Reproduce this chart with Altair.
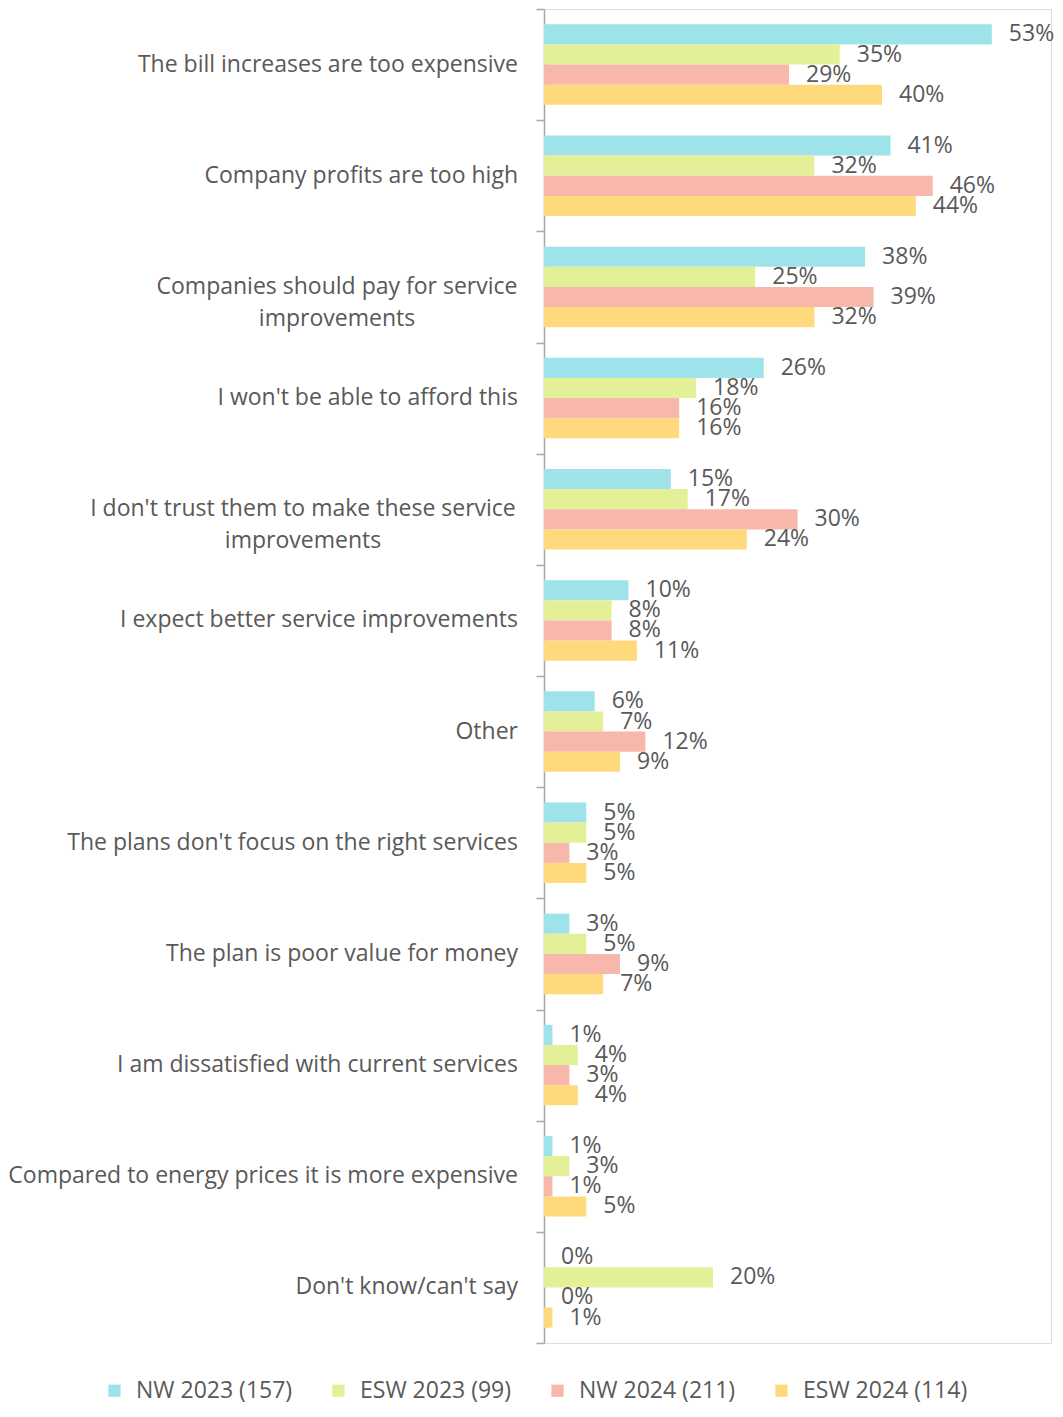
import altair as alt
import pandas as pd

categories = [
    "The bill increases are too expensive",
    "Company profits are too high",
    "Companies should pay for service\nimprovements",
    "I won't be able to afford this",
    "I don't trust them to make these service\nimprovements",
    "I expect better service improvements",
    "Other",
    "The plans don't focus on the right services",
    "The plan is poor value for money",
    "I am dissatisfied with current services",
    "Compared to energy prices it is more expensive",
    "Don't know/can't say",
]
series = ["NW 2023 (157)", "ESW 2023 (99)", "NW 2024 (211)", "ESW 2024 (114)"]
nw_2023 = [53, 41, 38, 26, 15, 10, 6, 5, 3, 1, 1, 0]
esw_2023 = [35, 32, 25, 18, 17, 8, 7, 5, 5, 4, 3, 20]
nw_2024 = [29, 46, 39, 16, 30, 8, 12, 3, 9, 3, 1, 0]
esw_2024 = [40, 44, 32, 16, 24, 11, 9, 5, 7, 4, 5, 1]
colors = ["#9EE3EA", "#E4F098", "#F7B7AA", "#FFDA7C"]

rows = []
for s, vals in zip(series, [nw_2023, esw_2023, nw_2024, esw_2024]):
    for c, v in zip(categories, vals):
        rows.append({"category": c, "series": s, "value": v / 100.0})
df = pd.DataFrame(rows)
cat_df = pd.DataFrame({"category": categories})

FONT = "Open Sans"
TXT = "#595959"
FS = 23
GRAY = "#A6A6A6"
GAP = 26  # label-to-axis gap

y_scale = alt.Scale(paddingInner=0, paddingOuter=0)
y_enc = alt.Y(
    "category:N",
    sort=categories,
    scale=y_scale,
    axis=alt.Axis(
        title=None,
        labels=False,
        tickBand="extent",
        tickSize=8,
        tickColor=GRAY,
        tickWidth=1.5,
        domainColor=GRAY,
        domainWidth=1.5,
    ),
)
x_enc = alt.X("value:Q", scale=alt.Scale(domain=[0, 0.6]), axis=None)
y_off = alt.YOffset(
    "series:N", sort=series, scale=alt.Scale(paddingInner=0, paddingOuter=0.76)
)

bars = alt.Chart(df).mark_bar().encode(
    y=y_enc,
    x=x_enc,
    yOffset=y_off,
    color=alt.Color(
        "series:N",
        sort=series,
        scale=alt.Scale(domain=series, range=colors),
        legend=alt.Legend(
            title=None,
            orient="none",
            legendX=-441,
            legendY=1370,
            direction="horizontal",
            symbolType="square",
            symbolSize=150,
            symbolStrokeWidth=0,
            labelFont=FONT,
            labelFontSize=FS,
            labelColor=TXT,
            labelLimit=400,
            columnPadding=34,
            labelOffset=10,
            padding=0,
        ),
    ),
)

values = alt.Chart(df).mark_text(
    align="left", baseline="middle", dx=17, font=FONT, fontSize=FS, color=TXT
).encode(
    y=alt.Y("category:N", sort=categories),
    x=x_enc,
    yOffset=y_off,
    text=alt.Text("value:Q", format=".0%"),
)

# category labels: single-line ones right-aligned, wrapped ones centred
label_base = alt.Chart(cat_df)
single = label_base.transform_filter("indexof(datum.category, '\\n') < 0").mark_text(
    align="right", baseline="middle", font=FONT, fontSize=FS, color=TXT
).encode(
    y=alt.Y("category:N", sort=categories),
    x=alt.value(-GAP),
    text="category:N",
)
wrap_a = label_base.transform_filter("indexof(datum.category, 'Companies should') == 0").mark_text(
    align="center", baseline="middle", lineBreak="\n", lineHeight=32,
    font=FONT, fontSize=FS, color=TXT,
).encode(
    y=alt.Y("category:N", sort=categories),
    x=alt.value(-GAP - 181),
    text="category:N",
)
wrap_b = label_base.transform_filter("indexof(datum.category, 'trust them') >= 0").mark_text(
    align="center", baseline="middle", lineBreak="\n", lineHeight=32,
    font=FONT, fontSize=FS, color=TXT,
).encode(
    y=alt.Y("category:N", sort=categories),
    x=alt.value(-GAP - 215),
    text="category:N",
)

chart = (
    alt.layer(bars, values, single, wrap_a, wrap_b)
    .properties(width=507, height=1334, padding={"left": 0, "top": 0, "right": 0, "bottom": 0})
    .configure_view(strokeWidth=0, stroke="transparent")
    .configure(font=FONT)
)

chart.save("out.html", embed_options={"renderer": "svg", "actions": False})
